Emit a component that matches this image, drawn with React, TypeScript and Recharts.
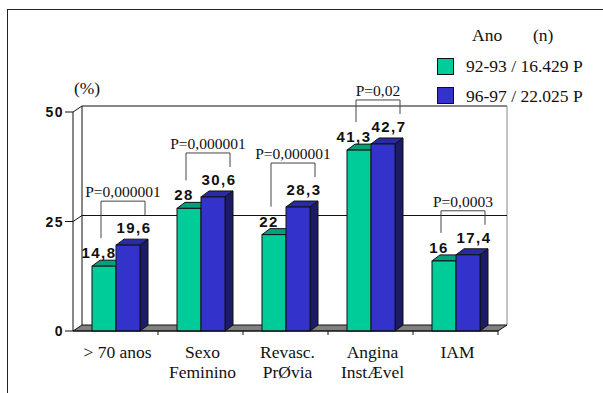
import { BarChart, Bar, XAxis, YAxis, ReferenceArea, ReferenceLine, LabelList, Label } from "recharts";

// Prevalence (%) by characteristic, two study periods
const categories = ["> 70 anos", "Sexo\nFeminino", "Revasc.\nPrØvia", "Angina\nInstÆvel", "IAM"];
const period9293 = [14.8, 28, 22, 41.3, 16];
const period9697 = [19.6, 30.6, 28.3, 42.7, 17.4];
const pValues = ["P=0,000001", "P=0,000001", "P=0,000001", "P=0,02", "P=0,0003"];
const seriesNames = ["92-93 / 16.429 P", "96-97 / 22.025 P"];
const yTicks = [0, 25, 50];

const W = 603;
const H = 393;
const MARGIN = { top: 112, right: 105, bottom: 12, left: 33 };
const Y_AXIS_W = 40;
const X_AXIS_H = 50;
const BAND = (W - MARGIN.left - Y_AXIS_W - MARGIN.right) / categories.length;

const SERIF = "Liberation Serif";
const SANS = "Liberation Sans";

const GREEN = { front: "#00CC99", top: "#00A07A", side: "#006B50" };
const BLUE = { front: "#3333CC", top: "#2A2AA3", side: "#1B1B66" };
const DX = 8; // bar depth
const DY = 6;
const WALL_DX = 9;
const WALL_DY = 6;

const data = categories.map((name, i) => ({
  name,
  a: period9293[i],
  b: period9697[i],
  p: pValues[i],
}));

const fmt = (v: number) => String(v).replace(".", ",");

const serifText = { fontFamily: SERIF };
const sansText = { fontFamily: SANS, fontWeight: 700 };

function boxFaces(x: number, y: number, w: number, h: number, c: typeof GREEN) {
  return (
    <>
      <polygon
        points={`${x},${y} ${x + DX},${y - DY} ${x + w + DX},${y - DY} ${x + w},${y}`}
        fill={c.top}
        stroke="#111"
        strokeWidth={1}
      />
      <polygon
        points={`${x + w},${y} ${x + w + DX},${y - DY} ${x + w + DX},${y + h - DY} ${x + w},${y + h}`}
        fill={c.side}
        stroke="#111"
        strokeWidth={1}
      />
      <rect x={x} y={y} width={w} height={h} fill={c.front} stroke="#111" strokeWidth={1} />
    </>
  );
}

const GreenBox = (props: any) => {
  const { x, y, width, height } = props;
  if (width == null || height == null) return null;
  return <g>{boxFaces(x, y, width, height, GREEN)}</g>;
};

// blue box also carries the significance bracket for its category
const BlueBox = (props: any) => {
  const { x, y, width: w, height: h, payload } = props;
  if (w == null || h == null) return null;
  const unit = h / payload.b;
  const greenTop = y + h - payload.a * unit;
  const barY = y - 44;
  const lx = x - w + 9;
  const rx = x + w + 5;
  return (
    <g>
      {boxFaces(x, y, w, h, BLUE)}
      <polyline
        points={`${lx},${greenTop - 28} ${lx},${barY} ${rx},${barY} ${rx},${y - 30}`}
        fill="none"
        stroke="#444"
        strokeWidth={1}
      />
      <text
        x={(lx + rx) / 2}
        y={barY - 4}
        textAnchor="middle"
        style={serifText}
        fontSize={15.5}
        fill="#111"
      >
        {payload.p}
      </text>
    </g>
  );
};

const valueLabel = (dx: number, dy: number) => (props: any) => {
  const vb = props.viewBox ?? props;
  const x = Number(vb.x);
  const y = Number(vb.y);
  const w = Number(vb.width);
  return (
    <text
      x={x + w / 2 + dx}
      y={y + dy}
      textAnchor="middle"
      style={sansText}
      fontSize={15}
      letterSpacing={1.5}
      fill="#111"
    >
      {fmt(Number(props.value))}
    </text>
  );
};

const Walls = (props: any) => {
  const { x, y, width: w, height: h } = props;
  const bx = x + WALL_DX;
  const by = y - WALL_DY;
  return (
    <g>
      <rect x={bx} y={by} width={w} height={h} fill="#fff" />
      <line x1={bx} y1={by} x2={bx + w} y2={by} stroke="#111" />
      <line x1={bx} y1={by} x2={bx} y2={by + h} stroke="#111" />
      <line x1={bx + w} y1={by} x2={bx + w} y2={by + h} stroke="#888" />
      <line x1={x} y1={y} x2={bx} y2={by} stroke="#111" />
      <polygon
        points={`${x},${y + h} ${bx},${by + h} ${bx + w},${by + h} ${x + w},${y + h}`}
        fill="#808080"
        stroke="#111"
        strokeWidth={1}
      />
    </g>
  );
};

const WallGridLine = (props: any) => {
  const { x1, y1, x2, y2 } = props;
  return (
    <g>
      <line x1={x1} y1={y1} x2={x1 + WALL_DX} y2={y1 - WALL_DY} stroke="#111" />
      <line x1={x1 + WALL_DX} y1={y1 - WALL_DY} x2={x2 + WALL_DX} y2={y2 - WALL_DY} stroke="#111" />
    </g>
  );
};

const CategoryTick = (props: any) => {
  const { x, y, payload } = props;
  const lines = String(payload.value).split("\n");
  return (
    <g>
      <line x1={x + BAND / 2} y1={y} x2={x + BAND / 2} y2={y + 4} stroke="#111" />
      {lines.map((t, i) => (
        <text
          key={i}
          x={x + 2}
          y={y + 27 + i * 20}
          textAnchor="middle"
          style={serifText}
          fontSize={17.5}
          fill="#111"
        >
          {t}
        </text>
      ))}
    </g>
  );
};

const ValueTick = (props: any) => {
  const { x, y, payload } = props;
  return (
    <text
      x={x}
      y={y + 5}
      textAnchor="end"
      style={sansText}
      fontSize={14}
      letterSpacing={1.5}
      fill="#111"
    >
      {payload.value}
    </text>
  );
};

const PercentLabel = (props: any) => {
  const vb = props.viewBox;
  return (
    <text
      x={vb.x + vb.width + 14}
      y={vb.y - 18}
      textAnchor="middle"
      style={serifText}
      fontSize={17.5}
      fill="#111"
    >
      (%)
    </text>
  );
};

function Legend() {
  const colors = [GREEN.front, BLUE.front];
  return (
    <svg
      width={W}
      height={H}
      style={{ position: "absolute", left: 0, top: 0, pointerEvents: "none" }}
    >
      <text x={472} y={41} style={serifText} fontSize={17.5} fill="#111">
        Ano
      </text>
      <text x={533} y={41} style={serifText} fontSize={17.5} fill="#111">
        (n)
      </text>
      {seriesNames.map((s, i) => (
        <g key={s}>
          <rect
            x={437.5}
            y={58.5 + i * 29}
            width={16}
            height={16}
            fill={colors[i]}
            stroke="#111"
          />
          <text x={466} y={72 + i * 30} style={serifText} fontSize={17.5} fill="#111">
            {s}
          </text>
        </g>
      ))}
    </svg>
  );
}

export default function App() {
  return (
    <div
      style={{
        position: "absolute",
        left: 0,
        top: 0,
        width: W,
        height: H,
        overflow: "hidden",
        background: "#fff",
      }}
    >
      <BarChart width={W} height={H} data={data} margin={MARGIN} barGap={0}>
        <ReferenceArea y1={0} y2={50} shape={Walls} ifOverflow="visible" zIndex={-200} />
        <ReferenceLine y={25} shape={WallGridLine} ifOverflow="visible" zIndex={-150} />
        <XAxis
          dataKey="name"
          interval={0}
          height={X_AXIS_H}
          axisLine={{ stroke: "#111" }}
          tickLine={false}
          tickSize={0}
          tickMargin={0}
          tick={CategoryTick}
        />
        <YAxis
          width={Y_AXIS_W}
          domain={[0, 50]}
          ticks={yTicks}
          axisLine={{ stroke: "#111" }}
          tickLine={{ stroke: "#111" }}
          tickSize={8}
          tickMargin={1}
          tick={ValueTick}
        >
          <Label content={PercentLabel} position="top" />
        </YAxis>
        <Bar dataKey="a" name={seriesNames[0]} fill={GREEN.front} barSize={24} shape={GreenBox} isAnimationActive={false}>
          <LabelList dataKey="a" content={valueLabel(-5, -8)} />
        </Bar>
        <Bar dataKey="b" name={seriesNames[1]} fill={BLUE.front} barSize={24} shape={BlueBox} isAnimationActive={false}>
          <LabelList dataKey="b" content={valueLabel(6, -12)} />
        </Bar>
      </BarChart>
      <div
        style={{
          position: "absolute",
          left: 7,
          top: 9,
          width: 620,
          height: 420,
          borderTop: "1px solid #222",
          borderLeft: "1px solid #222",
          pointerEvents: "none",
        }}
      />
      <Legend />
    </div>
  );
}
